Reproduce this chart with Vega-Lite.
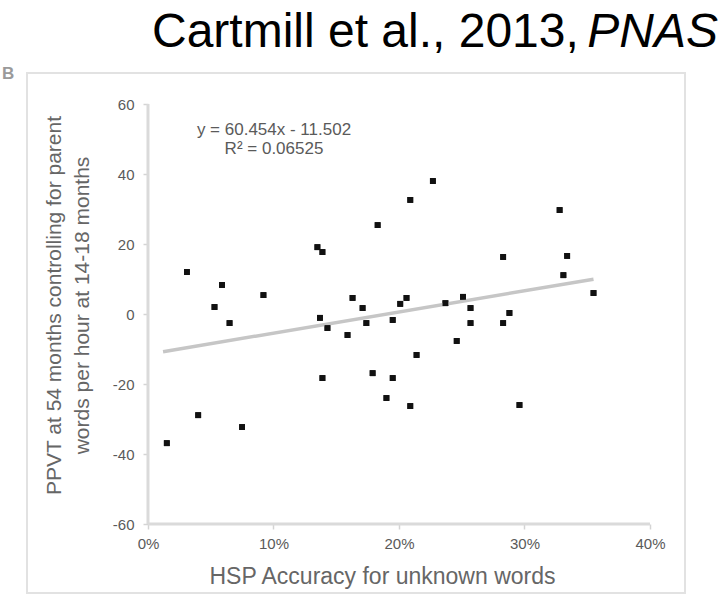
{
  "$schema": "https://vega.github.io/schema/vega-lite/v6.json",
  "width": 658,
  "height": 520,
  "autosize": {"type": "none"},
  "padding": {"left": 27, "top": 73, "right": 43, "bottom": 2},
  "background": "white",
  "config": {
    "view": {"stroke": "#e2e2e2", "strokeWidth": 2},
    "font": "Liberation Sans"
  },
  "datasets": {
    "points": [
      {"acc": 0.015, "ppvt": -36.9},
      {"acc": 0.031, "ppvt": 12.0},
      {"acc": 0.040, "ppvt": -28.9},
      {"acc": 0.053, "ppvt": 2.0},
      {"acc": 0.059, "ppvt": 8.3},
      {"acc": 0.065, "ppvt": -2.6},
      {"acc": 0.075, "ppvt": -32.3},
      {"acc": 0.092, "ppvt": 5.4},
      {"acc": 0.135, "ppvt": 19.1},
      {"acc": 0.139, "ppvt": 17.7},
      {"acc": 0.137, "ppvt": -1.1},
      {"acc": 0.143, "ppvt": -4.0},
      {"acc": 0.139, "ppvt": -18.3},
      {"acc": 0.159, "ppvt": -6.0},
      {"acc": 0.163, "ppvt": 4.6},
      {"acc": 0.171, "ppvt": 1.7},
      {"acc": 0.174, "ppvt": -2.6},
      {"acc": 0.179, "ppvt": -16.9},
      {"acc": 0.183, "ppvt": 25.4},
      {"acc": 0.190, "ppvt": -24.0},
      {"acc": 0.195, "ppvt": -18.3},
      {"acc": 0.195, "ppvt": -1.7},
      {"acc": 0.201, "ppvt": 2.9},
      {"acc": 0.206, "ppvt": 4.6},
      {"acc": 0.209, "ppvt": 32.6},
      {"acc": 0.209, "ppvt": -26.3},
      {"acc": 0.214, "ppvt": -11.7},
      {"acc": 0.227, "ppvt": 38.0},
      {"acc": 0.237, "ppvt": 3.1},
      {"acc": 0.246, "ppvt": -7.7},
      {"acc": 0.251, "ppvt": 4.9},
      {"acc": 0.257, "ppvt": 1.7},
      {"acc": 0.257, "ppvt": -2.6},
      {"acc": 0.283, "ppvt": 16.3},
      {"acc": 0.283, "ppvt": -2.6},
      {"acc": 0.288, "ppvt": 0.3},
      {"acc": 0.296, "ppvt": -26.0},
      {"acc": 0.328, "ppvt": 29.7},
      {"acc": 0.334, "ppvt": 16.6},
      {"acc": 0.331, "ppvt": 11.1},
      {"acc": 0.355, "ppvt": 6.0}
    ],
    "trend": [
      {"acc": 0.012, "ppvt": -10.78},
      {"acc": 0.355, "ppvt": 9.96}
    ]
  },
  "layer": [
    {
      "data": {"name": "points"},
      "mark": {"type": "point", "shape": "square", "filled": true, "size": 34, "color": "#111111", "opacity": 1},
      "encoding": {
        "x": {
          "field": "acc", "type": "quantitative",
          "scale": {"domain": [-0.0964, 0.4279], "nice": false, "zero": false},
          "axis": {
            "values": [0, 0.1, 0.2, 0.3, 0.4],
            "format": ".0%",
            "domain": false,
            "grid": false,
            "offset": -69,
            "tickSize": 5,
            "tickColor": "#d4d4d4",
            "tickWidth": 1.5,
            "labelPadding": 7,
            "labelFontSize": 15,
            "labelColor": "#5a5a5a",
            "labelFlush": false,
            "labelOverlap": false,
            "title": "HSP Accuracy for unknown words",
            "titleX": 355,
            "titleY": 52,
            "titleAlign": "center",
            "titleBaseline": "middle",
            "titleFontSize": 23,
            "titleFontWeight": "normal",
            "titleColor": "#666666"
          }
        },
        "y": {
          "field": "ppvt", "type": "quantitative",
          "scale": {"domain": [-79.71, 68.86], "nice": false, "zero": false},
          "axis": {
            "values": [-60, -40, -20, 0, 20, 40, 60],
            "labelExpr": "datum.value < 0 ? '-' + abs(datum.value) : '' + datum.value",
            "domain": false,
            "grid": false,
            "offset": -121,
            "tickSize": 5,
            "tickColor": "#d4d4d4",
            "tickWidth": 1.5,
            "labelPadding": 9,
            "labelFontSize": 15,
            "labelColor": "#5a5a5a",
            "labelFlush": false,
            "labelOverlap": false,
            "title": ["PPVT at 54 months controlling for parent", "words per hour at 14-18 months"],
            "titleX": -94,
            "titleY": 232,
            "titleAngle": -90,
            "titleAlign": "center",
            "titleBaseline": "middle",
            "titleLineHeight": 28,
            "titleFontSize": 21,
            "titleFontWeight": "normal",
            "titleColor": "#666666"
          }
        }
      }
    },
    {
      "data": {"values": [{}]},
      "mark": {"type": "rule", "color": "#dadada", "strokeWidth": 3},
      "encoding": {
        "x": {"datum": 0, "type": "quantitative"},
        "y": {"datum": -60, "type": "quantitative"},
        "y2": {"datum": 60}
      }
    },
    {
      "data": {"values": [{}]},
      "mark": {"type": "rule", "color": "#dadada", "strokeWidth": 3},
      "encoding": {
        "x": {"datum": 0, "type": "quantitative"},
        "x2": {"datum": 0.4},
        "y": {"datum": -60, "type": "quantitative"}
      }
    },
    {
      "data": {"name": "trend"},
      "mark": {"type": "line", "color": "#c6c6c6", "strokeWidth": 3.5},
      "encoding": {
        "x": {"field": "acc", "type": "quantitative"},
        "y": {"field": "ppvt", "type": "quantitative"}
      }
    },
    {
      "data": {"name": "points"},
      "mark": {"type": "point", "shape": "square", "filled": true, "size": 34, "color": "#111111", "opacity": 1},
      "encoding": {
        "x": {"field": "acc", "type": "quantitative"},
        "y": {"field": "ppvt", "type": "quantitative"}
      }
    },
    {
      "data": {"values": [{}]},
      "mark": {"type": "text", "align": "center", "baseline": "middle", "fontSize": 17, "lineHeight": 19, "color": "#5a5a5a", "font": "Liberation Sans"},
      "encoding": {
        "x": {"datum": 0.1004, "type": "quantitative"},
        "y": {"datum": 52.57, "type": "quantitative"},
        "text": {"value": ["y = 60.454x - 11.502", "R² = 0.06525"]}
      }
    },
    {
      "data": {"values": [{}]},
      "mark": {"type": "text", "align": "left", "baseline": "alphabetic", "fontSize": 48, "color": "#000000", "font": "Liberation Sans"},
      "encoding": {
        "x": {"datum": 0.0032, "type": "quantitative"},
        "y": {"datum": 76.29, "type": "quantitative"},
        "text": {"value": "Cartmill et al., 2013,"}
      }
    },
    {
      "data": {"values": [{}]},
      "mark": {"type": "text", "align": "right", "baseline": "alphabetic", "fontSize": 48, "fontStyle": "italic", "color": "#000000", "font": "Liberation Sans"},
      "encoding": {
        "x": {"datum": 0.4542, "type": "quantitative"},
        "y": {"datum": 76.29, "type": "quantitative"},
        "text": {"value": "PNAS"}
      }
    },
    {
      "data": {"values": [{}]},
      "mark": {"type": "text", "align": "left", "baseline": "middle", "fontSize": 17, "fontWeight": "bold", "color": "#9a9a9a", "font": "Liberation Sans"},
      "encoding": {
        "x": {"datum": -0.1163, "type": "quantitative"},
        "y": {"datum": 68.5, "type": "quantitative"},
        "text": {"value": "B"}
      }
    }
  ]
}
